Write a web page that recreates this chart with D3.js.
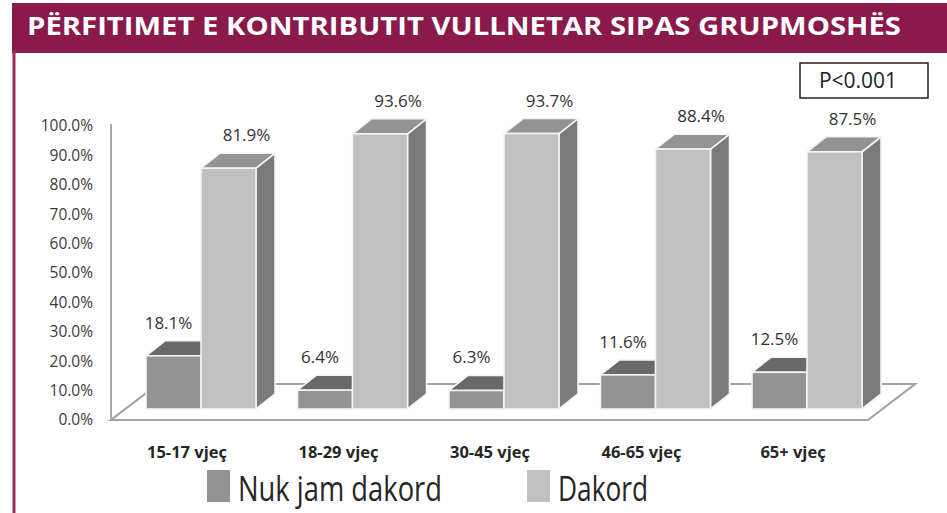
<!DOCTYPE html>
<html>
<head>
<meta charset="utf-8">
<script src="https://cdn.jsdelivr.net/npm/d3@7"></script>
<style>
  html, body { margin: 0; padding: 0; background: #ffffff; }
  svg { display: block; font-family: "Open Sans", "Noto Sans", sans-serif; }
</style>
</head>
<body>
<svg id="chart" width="947" height="513"></svg>
<script>
// ---- data ----
const title = "PËRFITIMET E KONTRIBUTIT VULLNETAR SIPAS GRUPMOSHËS";
const categories = ["15-17 vjeç", "18-29 vjeç", "30-45 vjeç", "46-65 vjeç", "65+ vjeç"];
const seriesNames = ["Nuk jam dakord", "Dakord"];
const nukJamDakord = [18.1, 6.4, 6.3, 11.6, 12.5];
const dakord = [81.9, 93.6, 93.7, 88.4, 87.5];
const yTickValues = [0, 10, 20, 30, 40, 50, 60, 70, 80, 90, 100];
const pValueText = "P<0.001";

// ---- styles ----
const maroon = "#8a1a4a";
const colors = {
  "Nuk jam dakord": { front: "#939393", top: "#696969", side: "#6b6b6b" },
  "Dakord": { front: "#c0c0c0", top: "#939393", side: "#7a7a7a" }
};
const barOffset = { dx: 14, dy: -11 };   // bars sit into the floor
const barDepth = { dx: 19, dy: -15 };
const floorDepth = { dx: 47, dy: -36 };

const svg = d3.select("#chart");

// title bar & border
svg.append("rect").attr("x", 12).attr("y", 3).attr("width", 935).attr("height", 50).attr("fill", maroon);
svg.append("rect").attr("x", 12.5).attr("y", 50).attr("width", 3).attr("height", 463).attr("fill", "#9a2d5c");
svg.append("text")
  .attr("x", 27).attr("y", 34.5)
  .attr("fill", "#ffffff").attr("font-weight", 700).attr("font-size", 25.5)
  .attr("textLength", 874).attr("lengthAdjust", "spacingAndGlyphs")
  .text(title);

// ---- scales ----
const y = d3.scaleLinear().domain([0, 100]).range([420, 126]);
const xGroup = d3.scaleBand().domain(categories).range([132, 132 + 5 * 151.5]);
const xSub = d3.scaleBand().domain(seriesNames).range([0, 110]);

// ---- floor ----
const fx0 = 111, fx1 = 868;
const floorPts = [
  [fx0, y(0)], [fx1, y(0)],
  [fx1 + floorDepth.dx, y(0) + floorDepth.dy],
  [fx0 + floorDepth.dx, y(0) + floorDepth.dy]
];
svg.append("path")
  .attr("d", d3.line()(floorPts) + "Z")
  .attr("fill", "none").attr("stroke", "#a3a3a3").attr("stroke-width", 2.2);

// vertical axis line
svg.append("line")
  .attr("x1", fx0).attr("x2", fx0).attr("y1", y(0)).attr("y2", y(100) - 2)
  .attr("stroke", "#a9a9a9").attr("stroke-width", 2);

// y axis labels
const yAxis = d3.axisLeft(y).tickValues(yTickValues).tickSize(0).tickPadding(0)
  .tickFormat(d => d.toFixed(1) + "%");
const yg = svg.append("g").attr("transform", "translate(93,0)").call(yAxis);
yg.select(".domain").remove();
yg.selectAll("text").attr("font-family", "'Open Sans', sans-serif").attr("font-size", 15.5).attr("fill", "#3a3a3a");

// ---- bars ----
const data = categories.map((c, i) => ({
  cat: c,
  vals: [
    { s: seriesNames[0], v: nukJamDakord[i] },
    { s: seriesNames[1], v: dakord[i] }
  ]
}));

const groups = svg.append("g").selectAll("g").data(data).join("g");
groups.each(function (g) {
  const G = d3.select(this);
  g.vals.forEach(d => {
    const x0 = xGroup(g.cat) + xSub(d.s) + barOffset.dx;
    const x1 = x0 + xSub.bandwidth();
    const yt = y(d.v) + barOffset.dy;
    const yb = y(0) + barOffset.dy;
    const c = colors[d.s];
    const edge = { stroke: "#f4f4f4", w: 1.6 };
    G.append("path")
      .attr("d", d3.line()([[x1, yt], [x1 + barDepth.dx, yt + barDepth.dy], [x1 + barDepth.dx, yb + barDepth.dy], [x1, yb]]) + "Z")
      .attr("fill", c.side).attr("stroke", edge.stroke).attr("stroke-width", edge.w).attr("stroke-linejoin", "round");
    G.append("path")
      .attr("d", d3.line()([[x0, yt], [x0 + barDepth.dx, yt + barDepth.dy], [x1 + barDepth.dx, yt + barDepth.dy], [x1, yt]]) + "Z")
      .attr("fill", c.top).attr("stroke", edge.stroke).attr("stroke-width", edge.w).attr("stroke-linejoin", "round");
    G.append("rect")
      .attr("x", x0).attr("y", yt).attr("width", x1 - x0).attr("height", yb - yt)
      .attr("fill", c.front).attr("stroke", edge.stroke).attr("stroke-width", edge.w);
  });
});

// data labels
const labelShift = { "Nuk jam dakord": -5, "Dakord": 18 };
groups.each(function (g) {
  const G = d3.select(this);
  g.vals.forEach(d => {
    const xc = xGroup(g.cat) + xSub(d.s) + barOffset.dx + xSub.bandwidth() / 2 + labelShift[d.s];
    G.append("text")
      .attr("x", xc).attr("y", y(d.v) + barOffset.dy - 27)
      .attr("text-anchor", "middle").attr("font-size", 17).attr("fill", "#333333")
      .text(d.v.toFixed(1) + "%");
  });
});

// category labels (front-plane group centres), condensed bold
const catText = svg.append("g").selectAll("text").data(categories).join("text")
  .attr("x", c => xGroup(c) + xSub.bandwidth())
  .attr("y", 457.5)
  .attr("text-anchor", "middle").attr("font-size", 16.5).attr("font-weight", 700)
  .attr("fill", "#262626")
  .text(c => c);
const firstLen = catText.node().getComputedTextLength();
const squeeze = Math.min(1, 85 / firstLen);
catText.attr("textLength", function () { return this.getComputedTextLength() * squeeze; })
  .attr("lengthAdjust", "spacingAndGlyphs");

// legend
const legendX = [207, 527];
const legendTextLen = [204, 90];
seriesNames.forEach((s, i) => {
  svg.append("rect").attr("x", legendX[i]).attr("y", 470).attr("width", 23).attr("height", 32)
    .attr("fill", colors[s].front);
  svg.append("text").attr("x", legendX[i] + 31).attr("y", 501)
    .attr("font-size", 35).attr("fill", "#262626")
    .attr("textLength", legendTextLen[i]).attr("lengthAdjust", "spacingAndGlyphs")
    .text(s);
});

// p-value box
svg.append("rect").attr("x", 800).attr("y", 63).attr("width", 128).attr("height", 35)
  .attr("fill", "#ffffff").attr("stroke", "#222222").attr("stroke-width", 1.5);
svg.append("text").attr("x", 858).attr("y", 88).attr("text-anchor", "middle")
  .attr("font-size", 21).attr("fill", "#222222").text(pValueText);
</script>
</body>
</html>
